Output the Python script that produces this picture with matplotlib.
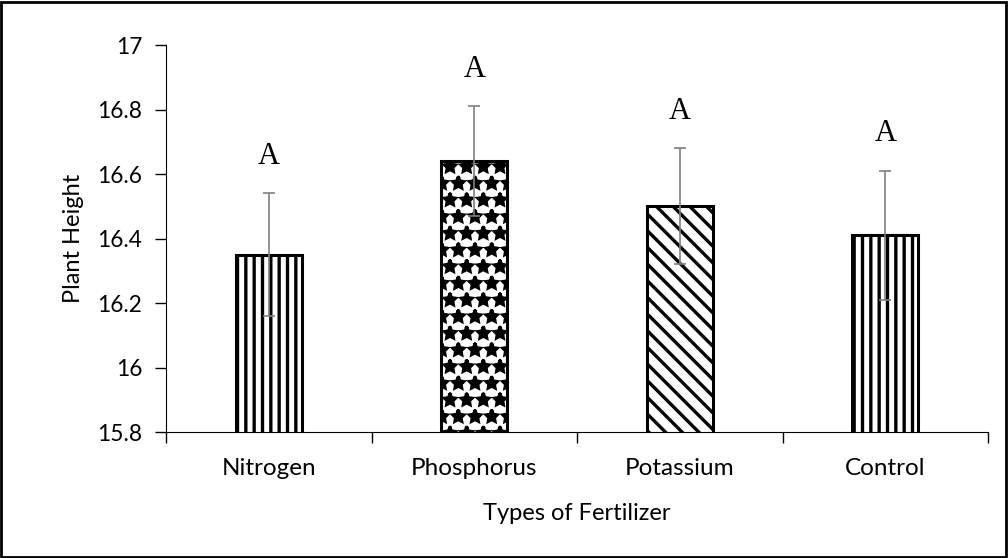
import matplotlib
matplotlib.use("Agg")
import matplotlib.pyplot as plt
from matplotlib.patches import Rectangle

categories = ["Nitrogen", "Phosphorus", "Potassium", "Control"]
means = [16.35, 16.64, 16.50, 16.41]
errors = [0.19, 0.17, 0.18, 0.20]
letters = ["A", "A", "A", "A"]
hatches = ["||", "*", "\\\\", "||"]
yticks = [15.8, 16.0, 16.2, 16.4, 16.6, 16.8, 17.0]
ytick_labels = ["15.8", "16", "16.2", "16.4", "16.6", "16.8", "17"]

plt.rcParams["hatch.linewidth"] = 2.4
plt.rcParams["font.family"] = ["Lato", "DejaVu Sans"]

fig = plt.figure(figsize=(10.08, 5.58), dpi=100)
ax = fig.add_axes([0.1647, 0.2258, 0.8155, 0.6935])

x = list(range(len(categories)))
bars = ax.bar(x, means, width=0.32, bottom=0, color="white", edgecolor="black",
              linewidth=2.2, zorder=2)
for b, h in zip(bars, hatches):
    b.set_hatch(h)
ax.errorbar(x, means, yerr=errors, fmt="none", ecolor="#7f7f7f", elinewidth=1.2,
            capsize=4.5, capthick=1.2, zorder=3)
for xi, m, e, t in zip(x, means, errors, letters):
    ax.text(xi, m + e + 0.115, t, ha="center", va="center", fontsize=22,
            family="Liberation Serif", color="black")

ax.set_ylim(15.8, 17.0)
ax.set_xlim(-0.5, 3.5)
ax.set_yticks(yticks)
ax.set_yticklabels(ytick_labels, fontsize=16.3)
ax.tick_params(axis="y", direction="out", length=8, width=1, pad=9)

ax.set_xticks([-0.5, 0.5, 1.5, 2.5, 3.5])
ax.set_xticklabels([])
ax.tick_params(axis="x", which="major", direction="out", length=8, width=1)
ax.set_xticks(x, minor=True)
ax.set_xticklabels(categories, minor=True, fontsize=17.5)
ax.tick_params(axis="x", which="minor", length=0, pad=19)

ax.spines["top"].set_visible(False)
ax.spines["right"].set_visible(False)
ax.set_ylabel("Plant Height", fontsize=17, labelpad=10)
ax.set_xlabel("Types of Fertilizer", fontsize=17, labelpad=17)

fig.patches.append(Rectangle((0.001, 0.002), 0.997, 0.995, transform=fig.transFigure,
                             fill=False, edgecolor="black", linewidth=2))

fig.savefig("out.png", dpi=100)
